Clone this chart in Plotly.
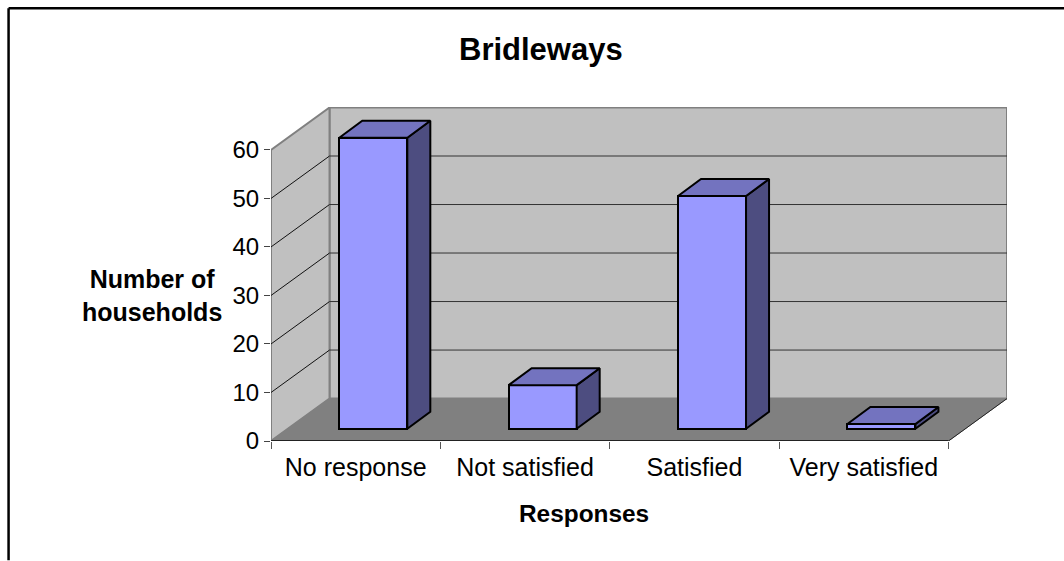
import plotly.graph_objects as go

categories = ["No response", "Not satisfied", "Satisfied", "Very satisfied"]
households = [60, 9, 48, 1]
y_ticks = [0, 10, 20, 30, 40, 50, 60]
title_text = "Bridleways"
x_title = "Responses"
y_title = "Number of<br>households"

FONT = "Liberation Sans"
W, H = 1064, 561
L, R, T, B = 270.5, 1006.7, 107, 441.5
PX_X = (947.7 - 270.5) / 4
PX_Y = (441.5 - 150) / 60
X0, X1 = -0.5, 3.5
WALL_DX, WALL_DY = 58.5 / PX_X, 42.5 / PX_Y
BAR_DX, BAR_DY = 23 / PX_X, 17 / PX_Y
BAR_W = 68 / PX_X
BAR_SHIFT = 17.6 / PX_X
BAR_BASE = 12.2 / PX_Y
YMAX = y_ticks[-1]


def path(pts):
    return "M " + " L ".join(f"{x},{y}" for x, y in pts) + " Z"


shapes = [
    dict(type="path", path=path([(X0 + WALL_DX, WALL_DY), (X1 + WALL_DX, WALL_DY),
                                 (X1 + WALL_DX, YMAX + WALL_DY), (X0 + WALL_DX, YMAX + WALL_DY)]),
         fillcolor="#C0C0C0", line=dict(color="#808080", width=2), layer="below"),
    dict(type="path", path=path([(X0, 0), (X0, YMAX), (X0 + WALL_DX, YMAX + WALL_DY), (X0 + WALL_DX, WALL_DY)]),
         fillcolor="#C0C0C0", line=dict(color="#808080", width=2), layer="below"),
    dict(type="path", path=path([(X0, 0), (X1, 0), (X1 + WALL_DX, WALL_DY), (X0 + WALL_DX, WALL_DY)]),
         fillcolor="#808080", line=dict(color="#808080", width=1), layer="below"),
]
for v in y_ticks[1:-1]:
    shapes.append(dict(type="line", x0=X0, y0=v, x1=X0 + WALL_DX, y1=v + WALL_DY,
                       line=dict(color="#111111", width=1), layer="below"))
    shapes.append(dict(type="line", x0=X0 + WALL_DX, y0=v + WALL_DY, x1=X1 + WALL_DX, y1=v + WALL_DY,
                       line=dict(color="#333333", width=1), layer="below"))
shapes.append(dict(type="line", x0=X1, y0=0, x1=X1 + WALL_DX, y1=WALL_DY,
                   line=dict(color="#222222", width=1), layer="below"))
# chart frame, open at the right and bottom
shapes.append(dict(type="line", xref="paper", yref="paper",
                   x0=(8 - L) / (R - L), x1=(8 - L) / (R - L),
                   y0=(B - H) / (B - T), y1=(B - 8) / (B - T),
                   line=dict(color="#000000", width=2.5)))
shapes.append(dict(type="line", xref="paper", yref="paper",
                   x0=(8 - L) / (R - L), x1=(W - L) / (R - L),
                   y0=(B - 8) / (B - T), y1=(B - 8) / (B - T),
                   line=dict(color="#000000", width=2.5)))

fig = go.Figure()
bar_x = [i + BAR_SHIFT for i in range(len(categories))]
fig.add_trace(go.Bar(x=bar_x, y=households, base=BAR_BASE, width=BAR_W,
                     marker=dict(color="#9999FF", line=dict(color="#000000", width=2)),
                     showlegend=False, hoverinfo="skip"))
for cx, v in zip(bar_x, households):
    xl, xr = cx - BAR_W / 2, cx + BAR_W / 2
    lo, hi = BAR_BASE, BAR_BASE + v
    fig.add_trace(go.Scatter(
        x=[xr, xr + BAR_DX, xr + BAR_DX, xr, xr], y=[lo, lo + BAR_DY, hi + BAR_DY, hi, lo],
        mode="lines", fill="toself", fillcolor="#4D4D80",
        line=dict(color="#000000", width=2), showlegend=False, hoverinfo="skip"))
    fig.add_trace(go.Scatter(
        x=[xl, xr, xr + BAR_DX, xl + BAR_DX, xl], y=[hi, hi, hi + BAR_DY, hi + BAR_DY, hi],
        mode="lines", fill="toself", fillcolor="#7373BF",
        line=dict(color="#000000", width=2), showlegend=False, hoverinfo="skip"))
# axis lines
fig.add_trace(go.Scatter(x=[X0, X1], y=[0, 0], mode="lines", line=dict(color="#222222", width=2),
                         showlegend=False, hoverinfo="skip", cliponaxis=False))

fig.update_layout(
    width=W, height=H, autosize=False,
    margin=dict(l=L, r=W - R, t=T, b=H - B, pad=0),
    paper_bgcolor="white", plot_bgcolor="rgba(0,0,0,0)",
    shapes=shapes, bargap=0,
    font=dict(family=FONT, color="#000000"),
    xaxis=dict(range=[X0, X1 + WALL_DX], tickmode="array", tickvals=list(range(len(categories))),
               ticktext=categories, ticks="outside", ticklen=4, tickcolor="rgba(0,0,0,0)",
               tickfont=dict(size=25, family=FONT), showgrid=False, zeroline=False, showline=False,
               minor=dict(tickmode="array", tickvals=[X0 + i for i in range(len(categories) + 1)],
                          ticks="outside", ticklen=7, tickwidth=1, tickcolor="#555555", showgrid=False)),
    yaxis=dict(range=[0, (B - T) / PX_Y], tickmode="array", tickvals=y_ticks,
               ticks="outside", ticklen=6, tickwidth=1, tickcolor="#444444",
               tickfont=dict(size=24, family=FONT), showgrid=False, zeroline=False, showline=False),
    annotations=[
        dict(text=f"<b>{title_text}</b>", xref="paper", yref="paper", x=(540.5 - L) / (R - L),
             y=(B - 49) / (B - T), showarrow=False, font=dict(size=31, family=FONT),
             xanchor="center", yanchor="middle"),
        dict(text=f"<b>{x_title}</b>", xref="paper", yref="paper", x=(584 - L) / (R - L),
             y=(B - 514) / (B - T), showarrow=False, font=dict(size=24.4, family=FONT),
             xanchor="center", yanchor="middle"),
        dict(text=f"<b>{y_title}</b>", xref="paper", yref="paper", x=(151.5 - L) / (R - L),
             y=(B - 296) / (B - T), showarrow=False, font=dict(size=25, family=FONT),
             xanchor="center", yanchor="middle", align="center"),
    ],
)
fig.write_html("out.html", config=dict(displayModeBar=False),
               post_script="document.body.style.margin='0';document.body.style.overflow='hidden';")
